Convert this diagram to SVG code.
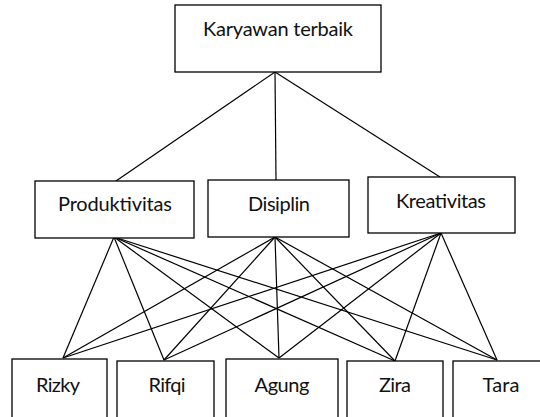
<svg xmlns="http://www.w3.org/2000/svg" width="540" height="417" viewBox="0 0 540 417">
<style>
.box{fill:#fff;stroke:#000;stroke-width:1.3}
.lbl{font-family:Lato,"Open Sans","Liberation Sans",sans-serif;font-size:20px;fill:#111;text-anchor:middle}
.con line{stroke:#000;stroke-width:1.2}
</style>
<rect width="540" height="417" fill="#fff"/>
<g id="connectors" class="con">
<line x1="275" y1="72" x2="116" y2="181"/>
<line x1="275" y1="72" x2="276" y2="180"/>
<line x1="275" y1="72" x2="440" y2="177"/>
<line x1="114" y1="237" x2="63" y2="358"/>
<line x1="114" y1="237" x2="164" y2="360"/>
<line x1="114" y1="237" x2="279" y2="358"/>
<line x1="114" y1="237" x2="395" y2="361"/>
<line x1="114" y1="237" x2="497" y2="360"/>
<line x1="275" y1="237" x2="63" y2="358"/>
<line x1="275" y1="237" x2="164" y2="360"/>
<line x1="275" y1="237" x2="279" y2="358"/>
<line x1="275" y1="237" x2="395" y2="361"/>
<line x1="275" y1="237" x2="497" y2="360"/>
<line x1="441" y1="233" x2="63" y2="358"/>
<line x1="441" y1="233" x2="164" y2="360"/>
<line x1="441" y1="233" x2="279" y2="358"/>
<line x1="441" y1="233" x2="395" y2="361"/>
<line x1="441" y1="233" x2="497" y2="360"/>
</g>
<g id="karyawan-terbaik"><rect class="box" x="175" y="5" width="206" height="67"/><text class="lbl" x="278" y="36" textLength="150">Karyawan terbaik</text></g>
<g id="produktivitas"><rect class="box" x="35" y="181" width="159" height="57"/><text class="lbl" x="115" y="211" textLength="114">Produktivitas</text></g>
<g id="disiplin"><rect class="box" x="208" y="180" width="141" height="57"/><text class="lbl" x="279" y="211" textLength="62">Disiplin</text></g>
<g id="kreativitas"><rect class="box" x="368" y="177" width="147" height="56"/><text class="lbl" x="441" y="207.5" textLength="90">Kreativitas</text></g>
<g id="rizky"><rect class="box" x="12" y="359" width="95" height="60"/><text class="lbl" x="58" y="392" textLength="44">Rizky</text></g>
<g id="rifqi"><rect class="box" x="117" y="361" width="97" height="60"/><text class="lbl" x="167" y="392" textLength="37">Rifqi</text></g>
<g id="agung"><rect class="box" x="226" y="359" width="112" height="60"/><text class="lbl" x="282" y="392" textLength="55">Agung</text></g>
<g id="zira"><rect class="box" x="347" y="361" width="96" height="60"/><text class="lbl" x="395" y="392" textLength="32">Zira</text></g>
<g id="tara"><rect class="box" x="453" y="361" width="90" height="60"/><text class="lbl" x="501" y="392" textLength="37">Tara</text></g>
</svg>
